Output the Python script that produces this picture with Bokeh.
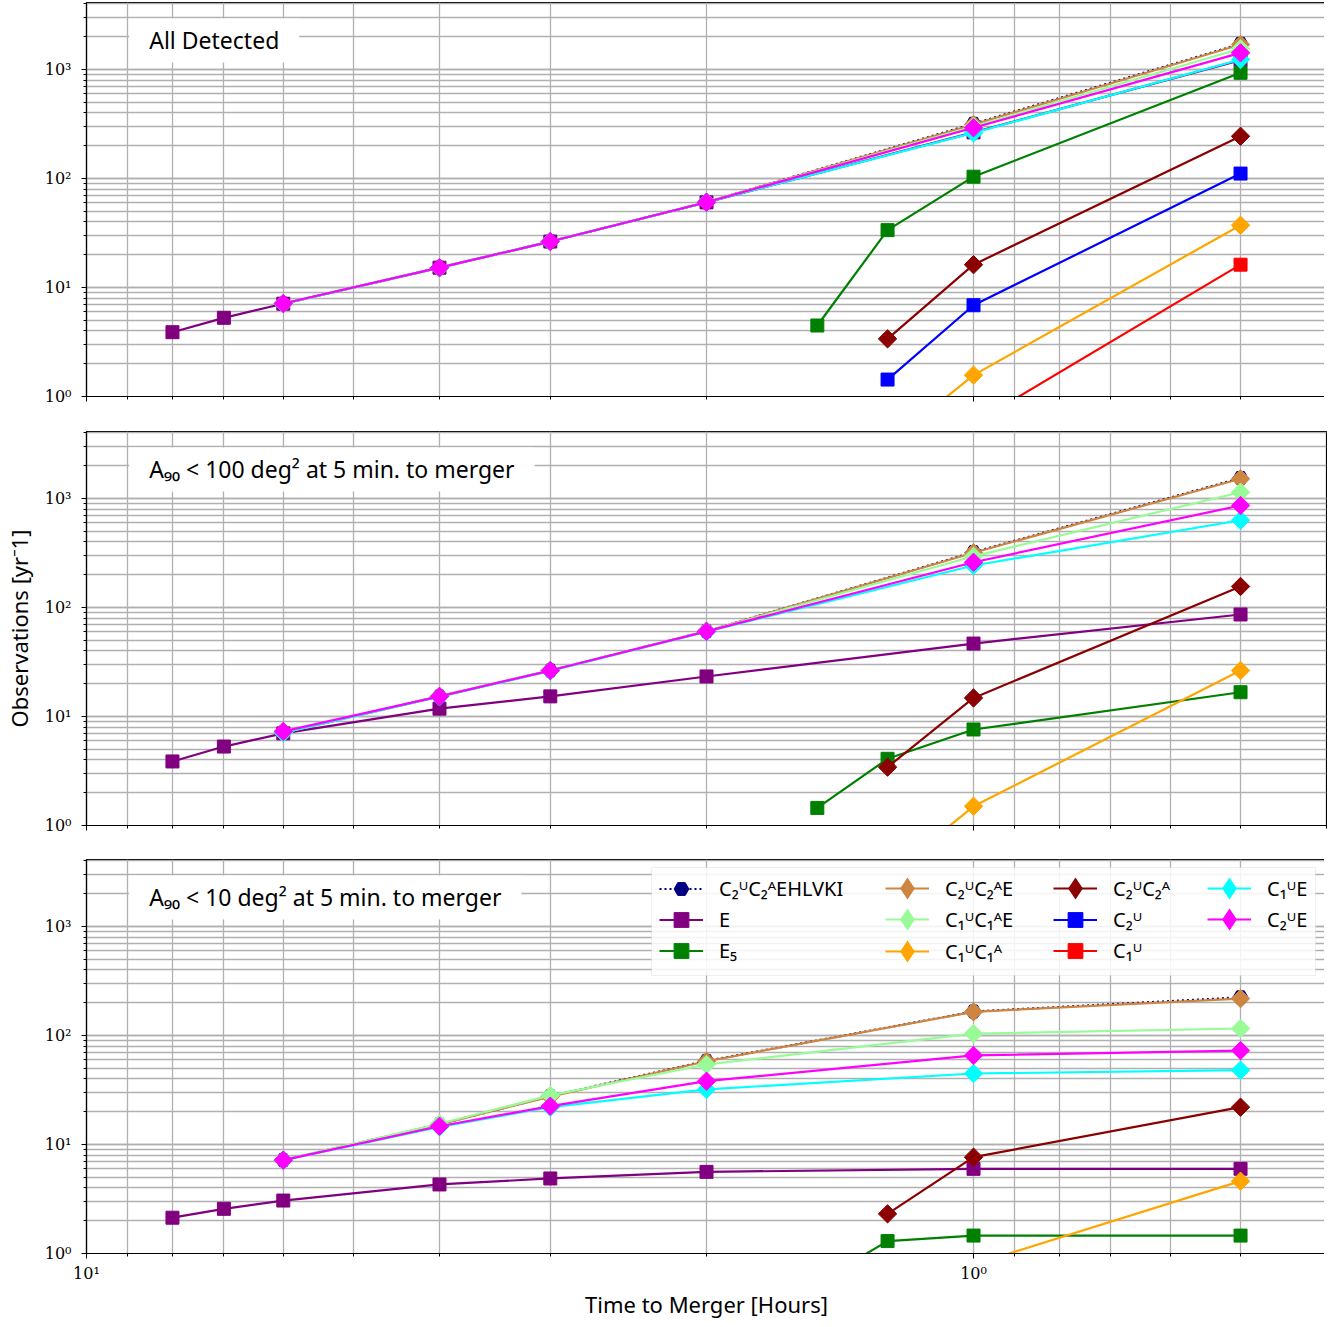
import math
from bokeh.plotting import figure
from bokeh.models import (Range1d, CustomJSTickFormatter, Label, Legend,
                          LegendItem, BoxAnnotation, FixedTicker)
from bokeh.layouts import column
from bokeh.embed import file_html
from bokeh.resources import INLINE

NaN = float("nan")

# time to merger [hours] at which each group of series is sampled
t_e = [8, 7, 6, 4, 3, 2, 1, 0.5]
t_c = [6, 4, 3, 2, 1, 0.5]
t_e5 = [1.5, 1.25, 1, 0.5]
t_late = [1.25, 1, 0.5]
t_c1u = [1, 0.5]

# Panel 1: All Detected
all_ehlvki = [7.1, 15.2, 26.4, 60.6, 318, 1720]
all_e = [3.89, 5.27, 7.1, 15.2, 26.4, 60.4, 265, 1220]
all_e5 = [4.48, 33.6, 104, 933]
all_c2uc2ae = [7.1, 15.2, 26.4, 60.6, 313, 1695]
all_c1uc1ae = [7.1, 15.2, 26.4, 60.6, 300, 1550]
all_c1uc1a = [0.36, 1.57, 37.3]
all_c2uc2a = [3.38, 16.2, 244]
all_c2u = [1.43, 6.88, 111]
all_c1u = [0.565, 16.2]
all_c1ue = [7.1, 15.2, 26.4, 60.6, 262, 1236]
all_c2ue = [7.13, 15.2, 26.4, 60.6, 292, 1422]

# Panel 2: A90 < 100 deg2 at 5 min. to merger
a100_ehlvki = [7.1, 15.3, 26.4, 60.6, 322, 1540]
a100_e = [3.87, 5.3, 7.0, 11.8, 15.3, 23.3, 46.7, 86.3]
a100_e5 = [1.45, 4.09, 7.6, 16.7]
a100_c2uc2ae = [7.1, 15.3, 26.4, 60.6, 318, 1517]
a100_c1uc1ae = [7.1, 15.3, 26.4, 60.6, 295, 1142]
a100_c1uc1a = [0.34, 1.50, 26.4]
a100_c2uc2a = [3.43, 14.8, 156]
a100_c2u = [NaN, NaN, NaN]
a100_c1u = [NaN, NaN]
a100_c1ue = [7.1, 15.2, 26.2, 60.0, 243, 632]
a100_c2ue = [7.3, 15.3, 26.4, 60.4, 260, 863]

# Panel 3: A90 < 10 deg2 at 5 min. to merger
a10_ehlvki = [7.18, 15.3, 27.8, 58.5, 166, 224]
a10_e = [2.13, 2.57, 3.06, 4.30, 4.88, 5.61, 5.98, 5.98]
a10_e5 = [0.54, 1.30, 1.46, 1.46]
a10_c2uc2ae = [7.18, 15.3, 27.5, 58.1, 165, 218]
a10_c1uc1ae = [7.18, 15.5, 28.2, 54.2, 104, 116]
a10_c1uc1a = [NaN, 0.79, 4.61]
a10_c2uc2a = [2.31, 7.65, 22.0]
a10_c2u = [NaN, NaN, NaN]
a10_c1u = [NaN, NaN]
a10_c1ue = [7.18, 14.5, 22.0, 32.0, 44.8, 48.1]
a10_c2ue = [7.18, 14.7, 22.5, 38.1, 65.6, 72.8]

series_names = ["C₂ᵁC₂ᴬEHLVKI", "E", "E₅", "C₂ᵁC₂ᴬE", "C₁ᵁC₁ᴬE", "C₁ᵁC₁ᴬ",
                "C₂ᵁC₂ᴬ", "C₂ᵁ", "C₁ᵁ", "C₁ᵁE", "C₂ᵁE"]
series_times = [t_c, t_e, t_e5, t_c, t_c, t_late, t_late, t_late, t_c1u, t_c, t_c]
series_colors = ["navy", "purple", "green", "peru", "palegreen", "orange",
                 "darkred", "blue", "red", "cyan", "magenta"]
series_markers = ["hex", "square", "square", "diamond", "diamond", "diamond",
                  "diamond", "square", "square", "diamond", "diamond"]
series_dash = ["2 3"] + ["solid"] * 10

x_major = [10, 1]
x_minor = [m * 10.0 ** e for e in (0, -1) for m in range(2, 10)]

panels = [
    ("All Detected",
     [all_ehlvki, all_e, all_e5, all_c2uc2ae, all_c1uc1ae, all_c1uc1a,
      all_c2uc2a, all_c2u, all_c1u, all_c1ue, all_c2ue]),
    ("A₉₀ < 100 deg² at 5 min. to merger",
     [a100_ehlvki, a100_e, a100_e5, a100_c2uc2ae, a100_c1uc1ae, a100_c1uc1a,
      a100_c2uc2a, a100_c2u, a100_c1u, a100_c1ue, a100_c2ue]),
    ("A₉₀ < 10 deg² at 5 min. to merger",
     [a10_ehlvki, a10_e, a10_e5, a10_c2uc2ae, a10_c1uc1ae, a10_c1uc1a,
      a10_c2uc2a, a10_c2u, a10_c1u, a10_c1ue, a10_c2ue]),
]

SANS = "Noto Sans"
SERIF = "DejaVu Serif"
GRID = "#b0b0b0"

pow_fmt = CustomJSTickFormatter(code="""
const s = {'-':'\u207b','0':'\u2070','1':'\u00b9','2':'\u00b2','3':'\u00b3','4':'\u2074',
           '5':'\u2075','6':'\u2076','7':'\u2077','8':'\u2078','9':'\u2079'};
const e = Math.round(Math.log10(tick));
return '10' + String(e).split('').map(c => s[c]).join('');
""")
blank_fmt = CustomJSTickFormatter(code="return '';")

FRAME_H = 394
tops = [2, 18, 17]
bottoms = [17, 17, 62]
figs = []
for k, (title, data) in enumerate(panels):
    last = (k == 2)
    p = figure(x_axis_type="log", y_axis_type="log",
               x_range=Range1d(10, 0.4), y_range=Range1d(1, 4120),
               frame_width=1240, frame_height=FRAME_H,
               min_border_left=83, min_border_right=1,
               min_border_top=tops[k], min_border_bottom=bottoms[k],
               toolbar_location=None, output_backend="svg",
               background_fill_color="white", border_fill_color="white")
    p.outline_line_color = "black"
    p.outline_line_width = 1.2
    xt = FixedTicker(ticks=x_major, minor_ticks=x_minor)
    p.xaxis[0].ticker = xt
    p.xgrid[0].ticker = xt
    for g in (p.xgrid, p.ygrid):
        g.grid_line_color = GRID
        g.grid_line_width = 1.3
        g.minor_grid_line_color = GRID
        g.minor_grid_line_width = 1.3
    for ax in (p.xaxis[0], p.yaxis[0]):
        ax.axis_line_color = "black"
        ax.axis_line_width = 1.2
        ax.major_tick_line_color = "black"
        ax.minor_tick_line_color = "black"
        ax.major_tick_out = 5
        ax.major_tick_in = 0
        ax.minor_tick_out = 3
        ax.minor_tick_in = 0
        ax.major_label_text_font = SERIF
        ax.major_label_text_font_size = "16px"
        ax.major_label_text_color = "black"
        ax.axis_label_text_font = SANS
        ax.axis_label_text_font_size = "22px"
        ax.axis_label_text_font_style = "normal"
        ax.axis_label_text_color = "black"
    p.yaxis[0].formatter = pow_fmt
    p.yaxis[0].major_label_standoff = 10
    p.yaxis[0].axis_label_standoff = 8
    if k == 1:
        p.yaxis[0].axis_label = "Observations [yr⁻1]"
    if last:
        p.xaxis[0].formatter = pow_fmt
        p.xaxis[0].major_label_standoff = 5
        p.xaxis[0].axis_label_standoff = 3
        p.xaxis[0].axis_label = "Time to Merger [Hours]"
    else:
        p.xaxis[0].formatter = blank_fmt
        p.xaxis[0].major_label_standoff = 0

    items = []
    for name, t, y, c, m, d in zip(series_names, series_times, data,
                                   series_colors, series_markers, series_dash):
        ln = p.line(t, y, line_color=c, line_width=2.2, line_dash=d)
        if m == "diamond":
            sc = p.scatter(t, y, marker="square", size=13, angle=math.pi / 4,
                           fill_color=c, line_color=c)
            key = p.scatter([NaN], [NaN], marker="diamond", size=13,
                            fill_color=c, line_color=c, line_width=2.5,
                            line_join="miter")
        elif m == "hex":
            sc = p.scatter(t, y, marker="hex", size=15, fill_color=c, line_color=c)
            key = sc
        else:
            sc = p.scatter(t, y, marker="square", size=13, fill_color=c, line_color=c)
            key = sc
        items.append((m, LegendItem(label=name, renderers=[ln, key])))

    p.add_layout(Label(x=8.95, y=1850, text=title, text_font=SANS,
                       text_font_size="23px", text_color="black",
                       text_baseline="middle", text_align="left",
                       background_fill_color="white", padding=(20, 6)))

    if last:
        p.add_layout(BoxAnnotation(left=565, right=1229,
                                   top=FRAME_H - 8, bottom=FRAME_H - 116,
                                   left_units="screen", right_units="screen",
                                   top_units="screen", bottom_units="screen",
                                   fill_color="white", fill_alpha=0.85,
                                   line_color="#cccccc", line_width=1.2))
        groups = [[0, 1, 2], [3, 4, 5], [6, 7, 8], [9, 10]]
        col_x = [601, 827, 995, 1149]
        for gi, idxs in enumerate(groups):
            for r, i in enumerate(idxs):
                m, item = items[i]
                gh = 44 if m == "diamond" else 37
                center = 29 + 31.5 * r
                leg = Legend(items=[item],
                             location=(col_x[gi], int(round(FRAME_H - center - gh / 2))),
                             orientation="vertical", padding=0, spacing=0,
                             margin=0, glyph_width=44, glyph_height=gh,
                             label_standoff=16,
                             label_text_font=SANS, label_text_font_size="20px",
                             label_text_color="black",
                             border_line_color=None, background_fill_alpha=0)
                p.add_layout(leg)
    figs.append(p)

layout = column(*figs, spacing=0)
open("out.html", "w").write(file_html(layout, INLINE))
